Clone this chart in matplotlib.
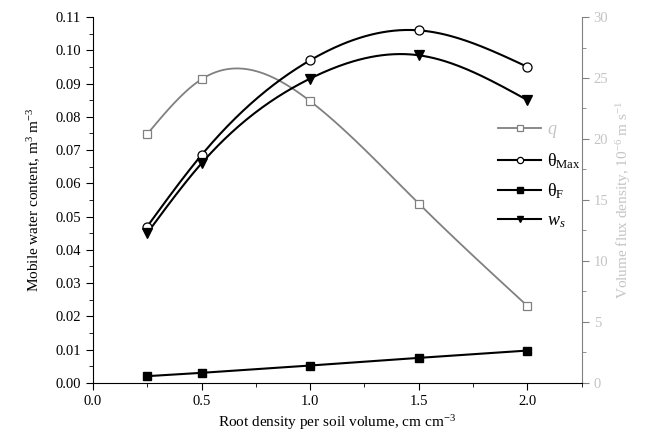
import numpy as np
import matplotlib
matplotlib.use('Agg')
import matplotlib.pyplot as plt
from matplotlib.ticker import MultipleLocator, FormatStrFormatter

plt.rcParams['font.family'] = ['Liberation Serif', 'DejaVu Serif']
plt.rcParams['mathtext.fontset'] = 'custom'
plt.rcParams['mathtext.rm'] = 'Liberation Serif'
plt.rcParams['mathtext.it'] = 'Liberation Serif:italic'

# data
root_density = [0.25, 0.5, 1.0, 1.5, 2.0]
theta_max = [0.047, 0.0685, 0.097, 0.106, 0.095]
theta_f = [0.0020, 0.0030, 0.0052, 0.0075, 0.0097]
w_s = [0.045, 0.066, 0.0915, 0.0985, 0.085]
q_flux = [20.4, 24.9, 23.1, 14.7, 6.3]


def natural_spline(x, y, n=200):
    x = np.asarray(x, float)
    y = np.asarray(y, float)
    k = len(x)
    h = np.diff(x)
    A = np.zeros((k, k))
    b = np.zeros(k)
    A[0, 0] = A[-1, -1] = 1
    for i in range(1, k - 1):
        A[i, i - 1] = h[i - 1]
        A[i, i] = 2 * (h[i - 1] + h[i])
        A[i, i + 1] = h[i]
        b[i] = 3 * ((y[i + 1] - y[i]) / h[i] - (y[i] - y[i - 1]) / h[i - 1])
    c = np.linalg.solve(A, b)
    xs = np.linspace(x[0], x[-1], n)
    ys = np.empty_like(xs)
    for j, xv in enumerate(xs):
        i = min(np.searchsorted(x, xv, side='right') - 1, k - 2)
        bi = (y[i + 1] - y[i]) / h[i] - h[i] * (2 * c[i] + c[i + 1]) / 3
        di = (c[i + 1] - c[i]) / (3 * h[i])
        t = xv - x[i]
        ys[j] = y[i] + bi * t + c[i] * t ** 2 + di * t ** 3
    return xs, ys


gray = '#808080'
light = '#c4c4c4'

fig = plt.figure(figsize=(6.45, 4.37), dpi=100)
ax = fig.add_axes([0.144, 0.124, 0.758, 0.837])
ax2 = ax.twinx()

# right axis: q
xs, ys = natural_spline(root_density, q_flux)
ax2.plot(xs, ys, color=gray, lw=1.3)
ax2.plot(root_density, q_flux, ls='none', marker='s', ms=5.5, mfc='white', mec=gray, mew=0.9)

# left axis
for vals, mk, mfc in [(theta_max, 'o', 'white'), (w_s, 'v', 'black')]:
    xs, ys = natural_spline(root_density, vals)
    ax.plot(xs, ys, color='black', lw=1.5, zorder=3)
    ax.plot(root_density, vals, ls='none', marker=mk, ms=6.5, mfc=mfc, mec='black', mew=0.9, zorder=4)
ax.plot(root_density, theta_f, color='black', lw=1.5, marker='s', ms=5.5, mfc='black', mec='black', zorder=4)

ax.set_zorder(ax2.get_zorder() + 1)
ax.patch.set_visible(False)

ax.set_xlim(0, 2.25)
ax.set_ylim(0, 0.11)
ax2.set_ylim(0, 30)
ax.xaxis.set_major_locator(MultipleLocator(0.5))
ax.xaxis.set_minor_locator(MultipleLocator(0.25))
ax.yaxis.set_major_locator(MultipleLocator(0.01))
ax.yaxis.set_minor_locator(MultipleLocator(0.005))
ax2.yaxis.set_major_locator(MultipleLocator(5))
ax2.yaxis.set_minor_locator(MultipleLocator(2.5))
ax.xaxis.set_major_formatter(FormatStrFormatter('%.1f'))
ax.yaxis.set_major_formatter(FormatStrFormatter('%.2f'))

for a in (ax, ax2):
    a.spines['top'].set_visible(False)
ax.spines['right'].set_visible(False)
ax2.spines['left'].set_visible(False)
ax2.spines['bottom'].set_visible(False)
ax2.spines['right'].set_color(gray)

ax.tick_params(which='major', direction='out', length=5, labelsize=10.5)
ax.tick_params(which='minor', direction='out', length=3)
ax2.tick_params(which='major', direction='out', length=5, colors=gray, labelcolor=light, labelsize=10.5)
ax2.tick_params(which='minor', direction='out', length=3, colors=gray)

ax.set_xlabel('Root density per soil volume, cm cm$^{-3}$', fontsize=11)
ax.set_ylabel('Mobile water content, m$^{3}$ m$^{-3}$', fontsize=11, labelpad=9)
ax2.set_ylabel('Volume flux density, 10$^{-6}$ m s$^{-1}$', fontsize=11, color=light)

h_q, = ax.plot([], [], color=gray, lw=1.3, marker='s', ms=4.5, mfc='white', mec=gray, mew=0.9)
h_m, = ax.plot([], [], color='black', lw=1.5, marker='o', ms=4.5, mfc='white', mec='black', mew=0.9)
h_f, = ax.plot([], [], color='black', lw=1.5, marker='s', ms=4.5, mfc='black')
h_w, = ax.plot([], [], color='black', lw=1.5, marker='v', ms=5, mfc='black')
leg = ax.legend([h_q, h_m, h_f, h_w],
                ['$q$', r'θ$_{\mathrm{Max}}$', r'θ$_{\mathrm{F}}$', '$w_s$'],
                loc='upper left', bbox_to_anchor=(0.81, 0.74), frameon=False,
                borderpad=0, fontsize=13, handlelength=2.4, handletextpad=0.3,
                labelspacing=0.6)
leg.get_texts()[0].set_color(light)

fig.savefig('out.png', dpi=100)
